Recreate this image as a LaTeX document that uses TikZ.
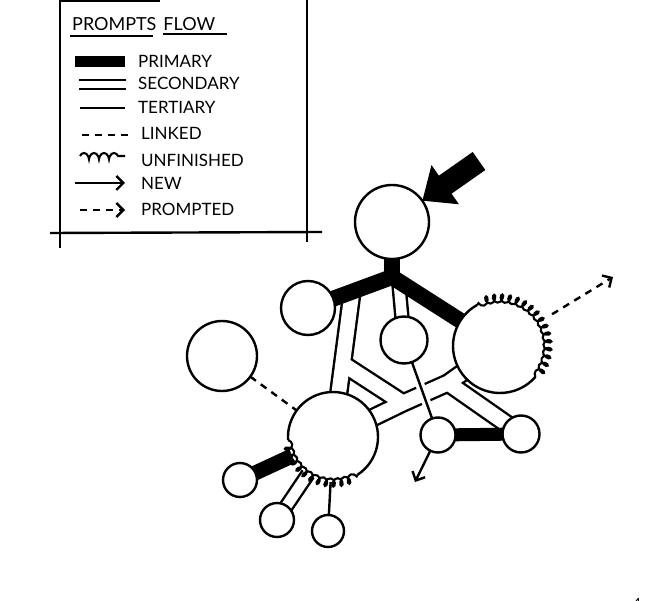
\documentclass[tikz,border=0pt]{standalone}
\usepackage{fontspec}
\setmainfont{Lato}
\usetikzlibrary{arrows.meta,decorations.pathmorphing}
\pgfdeclarelayer{bg}
\pgfsetlayers{bg,main}
\begin{document}
\begin{tikzpicture}[x=1pt,y=1pt,line width=2.4pt,
  ln/.style={line width=2.4pt},
  bub/.style={circle,draw,fill=white,line width=2.4pt,inner sep=0pt,outer sep=0pt,minimum size=#1},
  bubx/.style={circle,fill=white,inner sep=0pt,outer sep=0pt,minimum size=#1},
  primary/.style={line width=16pt,line cap=butt},
  secblack/.style={line width=19.4pt,line cap=butt,line join=miter},
  secwhite/.style={line width=14.6pt,white,line cap=butt,line join=miter},
  secblacks/.style={line width=15.4pt,line cap=butt},
  secwhites/.style={line width=10.6pt,white,line cap=butt},
  linked/.style={ln,dash pattern=on 7pt off 6pt},
  newarrow/.style={ln,-{Straight Barb[length=7pt,width=14pt]}},
  unfin/.style={line width=2.1pt,decorate,decoration={coil,aspect=0.75,amplitude=3.8pt,segment length=7.5pt}},
  lbl/.style={anchor=west,inner sep=0pt,font=\fontsize{17}{17}\selectfont}]
\useasboundingbox (0,0) rectangle (660,600);

% ---------- legend frame ----------
\draw[line width=3pt] (60,599) -- (160,599);
\draw[ln] (60,600) -- (60,352);
\draw[ln] (307,600) -- (307,358);
\draw[ln] (50,367) -- (322,368);

% ---------- legend ----------
\node[lbl,font=\fontsize{18}{18}\selectfont] (ttl) at (71,576) {PROMPTS\hspace{7pt}FLOW};
\draw[ln] (70,564) -- (153,564);
\draw[ln] (163,566) -- (227,566);

\draw[line width=11pt] (75,538) -- (125,538);
\node[lbl] (l1) at (137,539) {PRIMARY};
\draw[ln] (79,520) -- (126,520);
\draw[ln] (79,511) -- (126,511);
\node[lbl] (l2) at (137,517) {SECONDARY};
\draw[ln] (80,492) -- (125,492);
\node[lbl] (l3) at (137,493) {TERTIARY};
\draw[linked] (82,465) -- (128,465);
\node[lbl] (l4) at (140,467) {LINKED};
\draw[line width=2.1pt,decorate,decoration={coil,aspect=0.5,amplitude=3pt,segment length=10pt}] (80,444) -- (125,444);
\node[lbl] (l5) at (140,440) {UNFINISHED};
\draw[newarrow] (75,417) -- (125,417);
\node[lbl] (l6) at (140,417) {NEW};
\draw[linked,newarrow] (80,390) -- (125,390);
\node[lbl] (l7) at (140,391) {PROMPTED};

% ---------- nodes ----------
\node[bub=74pt] (A) at (392,378) {};
\node[bub=54pt] (B) at (308,292) {};
\node[bubx=94pt] (C) at (500,254) {};
\node[bub=47pt] (D) at (404,260) {};
\node[bub=70pt] (E) at (222,244) {};
\node[bubx=90pt] (F) at (333,163) {};
\node[bub=37pt] (G) at (521,166) {};
\node[bub=35pt] (H) at (438,165) {};
\node[bub=34pt] (I1) at (240,120) {};
\node[bub=34pt] (I2) at (277,80) {};
\node[bub=32pt] (I3) at (328,69) {};
\coordinate (J) at (392,323);
\coordinate (JD) at (399,315);
\coordinate (T0) at (352,308);
\coordinate (T1) at (343,236);
\coordinate (Y1) at (403,197);
\coordinate (Y2) at (448,217);
\coordinate (tail) at (479,439);
\coordinate (newend) at (415,118);
\coordinate (promend) at (613,323);
\node[font=\fontsize{14}{14}\selectfont] (pg) at (637,-3) {4};

% ---------- connectors under the nodes ----------
\begin{pgfonlayer}{bg}
  \draw[secblack] (T0) -- (F.center);
  \draw[secblack] (T1) -- (Y1);
  \draw[secblack] (F.center) -- (Y1) -- (Y2) -- (C.center);
  \draw[secblack] (Y2) -- (G.center);
  \draw[secblacks] (JD) -- (D.center);
  \draw[secblacks] (F.center) -- (I2.center);
  \draw[secwhite] (T0) -- (F.center);
  \draw[secwhite] (T1) -- (Y1);
  \draw[secwhite] (F.center) -- (Y1) -- (Y2) -- (C.center);
  \draw[secwhite] (Y2) -- (G.center);
  \draw[secwhites] (JD) -- (D.center);
  \draw[secwhites] (F.center) -- (I2.center);
  \draw[white,line width=9pt] (D.center) -- (H.center);
  \draw[ln] (D.center) -- (H.center);
  \draw[ln] (F.center) -- (I3.center);
  \draw[primary] (A.center) -- (J);
  \draw[primary,line join=round] (B.center) -- (J) -- (C.center);
  \draw[line width=13pt,line cap=butt] (H.center) -- (G.center);
  \draw[line width=15pt,line cap=butt] (F.center) -- (I1.center);
\end{pgfonlayer}

% ---------- outlines of C and F (plain + unfinished) ----------
\draw[ln] ([shift={(119:47)}]C.center) arc[start angle=119,end angle=319,radius=47];
\draw[unfin] ([shift={(-41:47)}]C.center) arc[start angle=-41,end angle=119,radius=47];
\draw[ln] ([shift={(-57:45)}]F.center) arc[start angle=-57,end angle=184,radius=45];
\draw[unfin] ([shift={(184:45)}]F.center) arc[start angle=184,end angle=303,radius=45];

% ---------- other connectors ----------
\draw[linked] (E) -- (F);
\draw[newarrow] (H) -- (newend);
\draw[linked,newarrow,shorten <=14pt] (C) -- (promend);
\draw[line width=22pt,-{Triangle[length=28pt,width=46pt]}] (tail) -- (A);
\end{tikzpicture}
\end{document}
